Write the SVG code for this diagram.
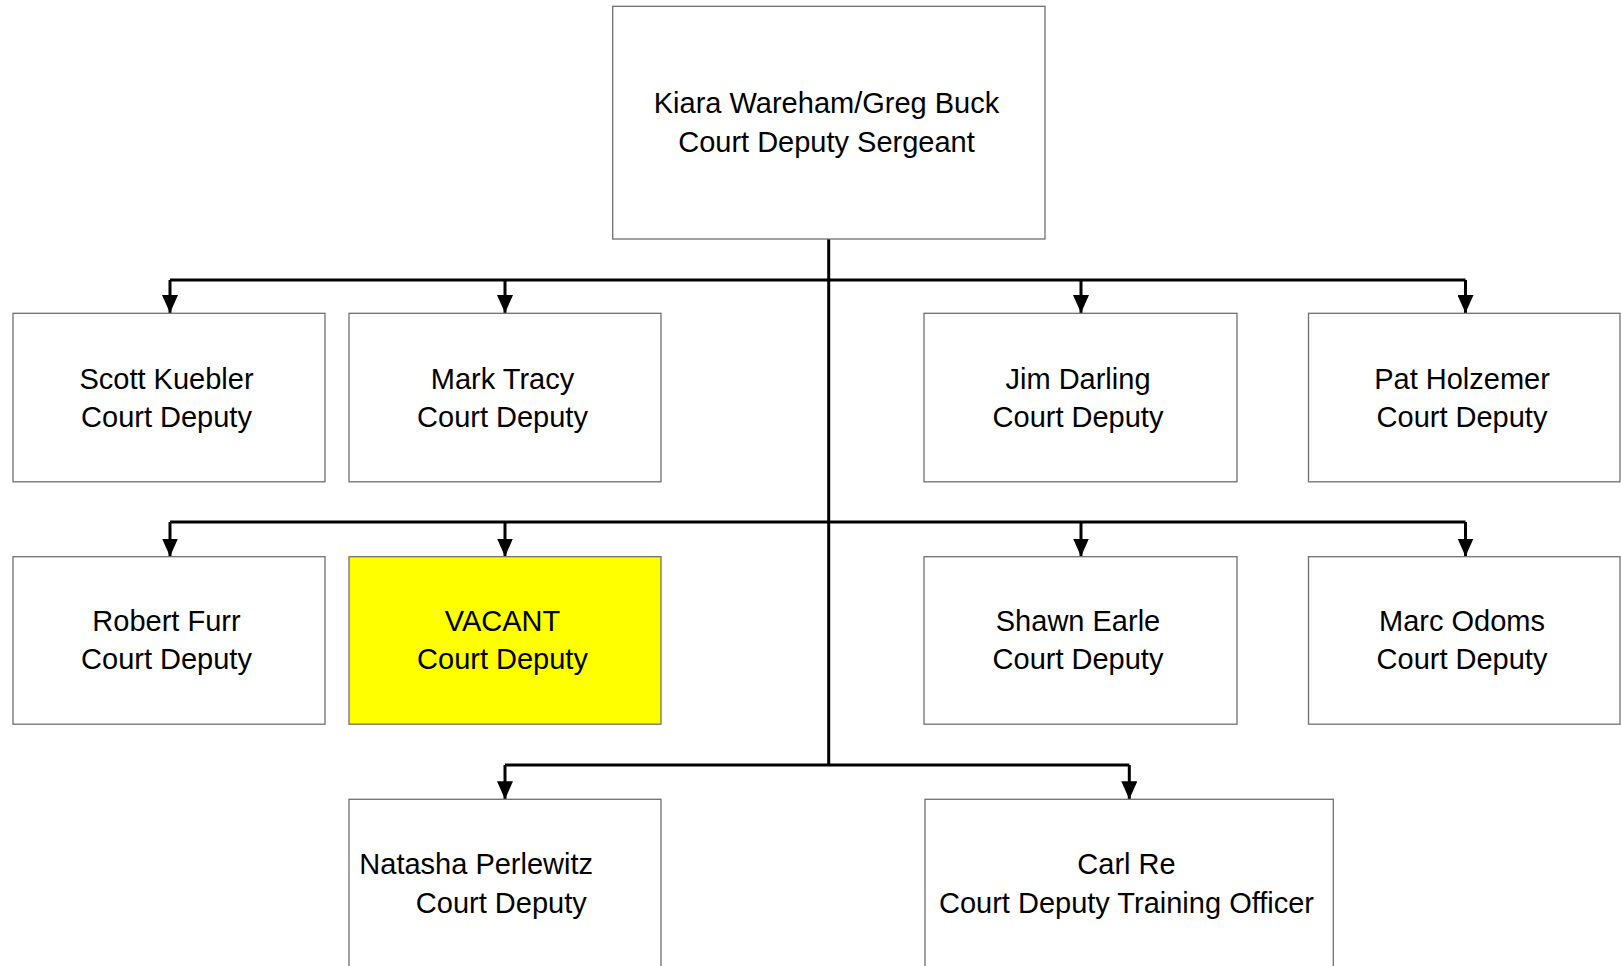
<svg xmlns="http://www.w3.org/2000/svg" width="1621" height="966" viewBox="0 0 1621 966">
<style>
.box{fill:#ffffff;stroke:#707070;stroke-width:1.3}
.vac{fill:#ffff00;stroke:#707070;stroke-width:1.3}
.t{font-family:"Liberation Sans",Arial,sans-serif;font-size:29px;fill:#000;text-anchor:middle}
.ln{fill:none;stroke:#000;stroke-width:3}
</style>
<defs>
<marker id="ah" viewBox="0 0 18 16" refX="18" refY="8" markerWidth="18" markerHeight="16" markerUnits="userSpaceOnUse" orient="auto">
<path d="M0,0 L18,8 L0,16 z" fill="#000"/>
</marker>
</defs>
<rect width="1621" height="966" fill="#ffffff"/>
<g id="connectors">
<path class="ln" d="M828.7,239 V765"/>
<path class="ln" d="M170,280 H1465.5"/>
<path class="ln" d="M170,522 H1465.5"/>
<path class="ln" d="M505,765 H1129.3"/>
<path class="ln" d="M170,280 V313" marker-end="url(#ah)"/>
<path class="ln" d="M505,280 V313" marker-end="url(#ah)"/>
<path class="ln" d="M1081,280 V313" marker-end="url(#ah)"/>
<path class="ln" d="M1465.5,280 V313" marker-end="url(#ah)"/>
<path class="ln" d="M170,522 V556.5" marker-end="url(#ah)"/>
<path class="ln" d="M505,522 V556.5" marker-end="url(#ah)"/>
<path class="ln" d="M1081,522 V556.5" marker-end="url(#ah)"/>
<path class="ln" d="M1465.5,522 V556.5" marker-end="url(#ah)"/>
<path class="ln" d="M505,765 V799.3" marker-end="url(#ah)"/>
<path class="ln" d="M1129.3,765 V799.3" marker-end="url(#ah)"/>
</g>
<g id="sergeant">
<rect class="box" x="612.7" y="6.3" width="432.3" height="232.7"/>
<text class="t" x="826.5" y="113">Kiara Wareham/Greg Buck</text>
<text class="t" x="826.5" y="152">Court Deputy Sergeant</text>
</g>
<g id="scott">
<rect class="box" x="13" y="313.3" width="312" height="168.5"/>
<text class="t" x="166.5" y="389.3">Scott Kuebler</text>
<text class="t" x="166.5" y="427">Court Deputy</text>
</g>
<g id="mark">
<rect class="box" x="349" y="313.3" width="312" height="168.5"/>
<text class="t" x="502.5" y="389.3">Mark Tracy</text>
<text class="t" x="502.5" y="427">Court Deputy</text>
</g>
<g id="jim">
<rect class="box" x="924" y="313.3" width="313" height="168.5"/>
<text class="t" x="1078" y="389.3">Jim Darling</text>
<text class="t" x="1078" y="427">Court Deputy</text>
</g>
<g id="pat">
<rect class="box" x="1308.5" y="313.3" width="311.5" height="168.5"/>
<text class="t" x="1462" y="389.3">Pat Holzemer</text>
<text class="t" x="1462" y="427">Court Deputy</text>
</g>
<g id="robert">
<rect class="box" x="13" y="556.7" width="312" height="167.5"/>
<text class="t" x="166.5" y="631">Robert Furr</text>
<text class="t" x="166.5" y="669">Court Deputy</text>
</g>
<g id="vacant">
<rect class="vac" x="349" y="556.7" width="312" height="167.5"/>
<text class="t" x="502.5" y="631">VACANT</text>
<text class="t" x="502.5" y="669">Court Deputy</text>
</g>
<g id="shawn">
<rect class="box" x="924" y="556.7" width="313" height="167.5"/>
<text class="t" x="1078" y="631">Shawn Earle</text>
<text class="t" x="1078" y="669">Court Deputy</text>
</g>
<g id="marc">
<rect class="box" x="1308.5" y="556.7" width="311.5" height="167.5"/>
<text class="t" x="1462" y="631">Marc Odoms</text>
<text class="t" x="1462" y="669">Court Deputy</text>
</g>
<g id="natasha">
<rect class="box" x="349" y="799.3" width="312" height="168"/>
<text class="t" x="476.2" y="873.5">Natasha Perlewitz</text>
<text class="t" x="501.3" y="912.5">Court Deputy</text>
</g>
<g id="carl">
<rect class="box" x="925" y="799.3" width="408.3" height="168"/>
<text class="t" x="1126.5" y="873.5">Carl Re</text>
<text class="t" x="1126.5" y="912.5">Court Deputy Training Officer</text>
</g>
</svg>
